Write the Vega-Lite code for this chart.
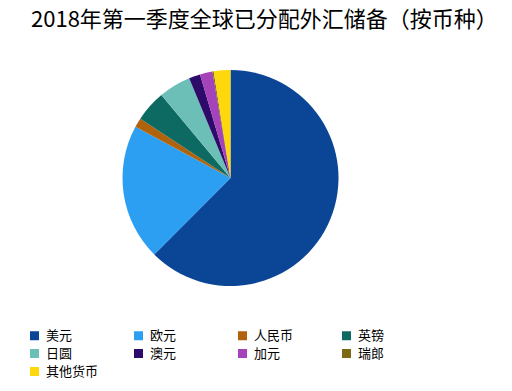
{
  "$schema": "https://vega.github.io/schema/vega-lite/v6.json",
  "width": 461,
  "height": 276,
  "autosize": {"type": "none"},
  "padding": {"top": 40, "left": 0, "right": 51, "bottom": 75},
  "background": "white",
  "title": {
    "text": "2018年第一季度全球已分配外汇储备（按币种）",
    "font": "Noto Sans CJK SC",
    "fontSize": 22,
    "fontWeight": "normal",
    "color": "#000000",
    "anchor": "start",
    "frame": "group",
    "dx": 31,
    "offset": 8
  },
  "data": {
    "values": [
      {"currency": "美元", "share": 62.48, "idx": 1},
      {"currency": "欧元", "share": 20.39, "idx": 2},
      {"currency": "人民币", "share": 1.39, "idx": 3},
      {"currency": "英镑", "share": 4.68, "idx": 4},
      {"currency": "日圆", "share": 4.81, "idx": 5},
      {"currency": "澳元", "share": 1.70, "idx": 6},
      {"currency": "加元", "share": 1.87, "idx": 7},
      {"currency": "瑞郎", "share": 0.18, "idx": 8},
      {"currency": "其他货币", "share": 2.50, "idx": 9}
    ]
  },
  "mark": {"type": "arc", "outerRadius": 108, "stroke": null},
  "encoding": {
    "theta": {"field": "share", "type": "quantitative", "stack": true},
    "order": {"field": "idx", "type": "quantitative"},
    "color": {
      "field": "currency",
      "type": "nominal",
      "sort": ["美元", "欧元", "人民币", "英镑", "日圆", "澳元", "加元", "瑞郎", "其他货币"],
      "scale": {
        "domain": ["美元", "欧元", "人民币", "英镑", "日圆", "澳元", "加元", "瑞郎", "其他货币"],
        "range": ["#0b4596", "#2d9ff3", "#b0620d", "#0d6a63", "#6bbfb7", "#2e0b6b", "#a443ba", "#7b6a12", "#fcd80c"]
      },
      "legend": {
        "title": null,
        "orient": "none",
        "legendX": 28,
        "legendY": 289,
        "direction": "horizontal",
        "columns": 4,
        "gridAlign": "all",
        "columnPadding": 33,
        "rowPadding": 4,
        "padding": 0,
        "symbolType": "square",
        "symbolSize": 81,
        "symbolStrokeWidth": 0,
        "labelOffset": 5,
        "labelFont": "Noto Sans CJK SC",
        "labelFontSize": 13,
        "labelColor": "#000000",
        "labelLimit": 200
      }
    }
  },
  "config": {"view": {"stroke": null}}
}
